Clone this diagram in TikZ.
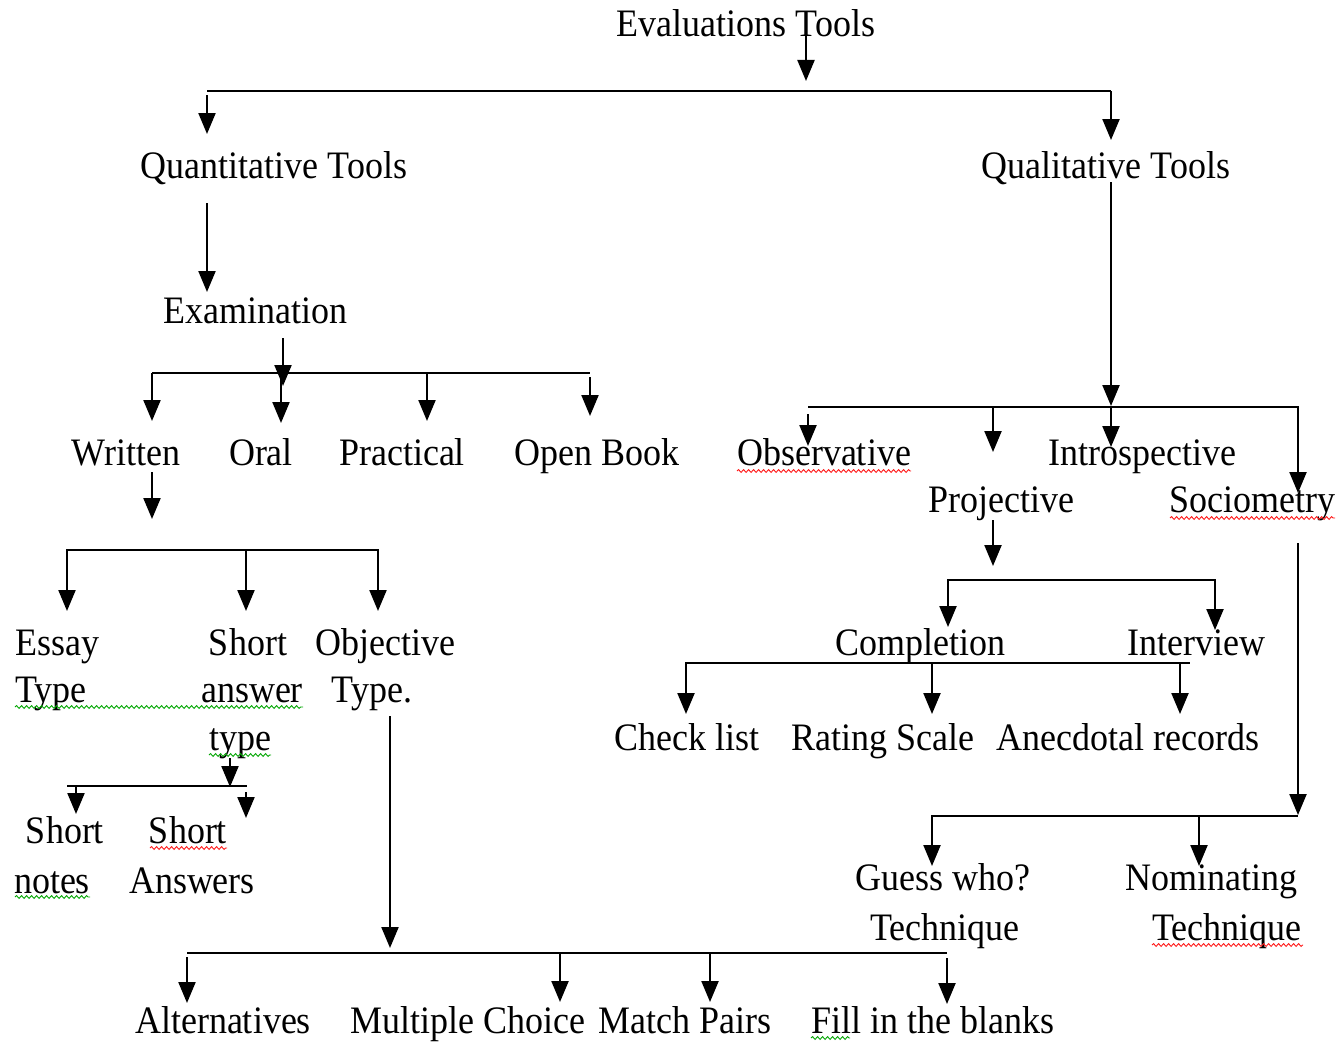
\documentclass[tikz,border=0pt]{standalone}
\usepackage{fontspec}
\usepackage{graphicx}
\setmainfont{Liberation Serif}
\usetikzlibrary{arrows.meta,decorations.pathmorphing}
\newcommand\tallt[1]{\scalebox{1}[1.08]{#1}}
\begin{document}
\begin{tikzpicture}[x=1pt,y=-1pt,
  lbl/.style={anchor=base,inner sep=0pt,font=\fontsize{36}{44}\selectfont},
  lblw/.style={lbl,anchor=base west},
  ln/.style={line width=2.2pt},
  arr/.style={ln,-{Triangle[length=21pt,width=17pt]}},
  arrL/.style={ln,{Triangle[length=21pt,width=17pt]}-},
  arrB/.style={ln,{Triangle[length=21pt,width=17pt]}-{Triangle[length=21pt,width=17pt]}},
  sq/.style={line width=0.9pt,decorate,decoration={snake,amplitude=1.4pt,segment length=5pt}},
  redsq/.style={sq,draw=red!90!white},
  grnsq/.style={sq,draw=green!65!black}]
\useasboundingbox (0,0) rectangle (1338,1041);
\fill[white] (0,0) rectangle (1338,1041);

% ---- text nodes ----
\node[lbl] (eval) at (746,37) {\tallt{Evaluations Tools}};
\node[lbl] (quant) at (274,178) {\tallt{Quantitative Tools}};
\node[lbl] (qual) at (1106,178) {\tallt{Qualitative Tools}};
\node[lbl] (exam) at (255,323) {\tallt{Examination}};
\node[lbl] (written) at (126,465) {\tallt{Written}};
\node[lbl] (oral) at (261,465) {\tallt{Oral}};
\node[lbl] (pract) at (402,465) {\tallt{Practical}};
\node[lbl] (open) at (597,465) {\tallt{Open Book}};
\node[lbl] (obs) at (824,465) {\tallt{Observative}};
\node[lbl] (intro) at (1142,465) {\tallt{Introspective}};
\node[lbl] (proj) at (1001,512) {\tallt{Projective}};
\node[lbl] (socio) at (1252,512) {\tallt{Sociometry}};
\node[lbl] (compl) at (920,655) {\tallt{Completion}};
\node[lbl] (interv) at (1196,655) {\tallt{Interview}};
\node[lbl] (check) at (687,750) {\tallt{Check list}};
\node[lbl] (rating) at (883,750) {\tallt{Rating Scale}};
\node[lbl] (anec) at (1128,750) {\tallt{Anecdotal records}};
\node[lblw] (essayA) at (15,655) {\tallt{Essay}};
\node[lblw] (essayB) at (15,702) {\tallt{Type}};
\node[lbl] (satA) at (248,655) {\tallt{Short}};
\node[lbl] (satB) at (252,702) {\tallt{answer}};
\node[lbl] (satC) at (240,750) {\tallt{type}};
\node[lbl] (objA) at (385,655) {\tallt{Objective}};
\node[lbl] (objB) at (372,702) {\tallt{Type.}};
\node[lbl] (snA) at (65,843) {\tallt{Short}};
\node[lbl] (snB) at (52,893) {\tallt{notes}};
\node[lbl] (saA) at (188,843) {\tallt{Short}};
\node[lbl] (saB) at (192,893) {\tallt{Answers}};
\node[lbl] (gwA) at (943,890) {\tallt{Guess who?}};
\node[lbl] (gwB) at (945,940) {\tallt{Technique}};
\node[lbl] (nomA) at (1211,890) {\tallt{Nominating}};
\node[lbl] (nomB) at (1227,940) {\tallt{Technique}};
\node[lbl] (alt) at (223,1033) {\tallt{Alternatives}};
\node[lbl] (mc) at (468,1033) {\tallt{Multiple Choice}};
\node[lbl] (mp) at (685,1033) {\tallt{Match Pairs}};
\node[lbl] (fill) at (933,1033) {\tallt{Fill in the blanks}};

% ---- junction coordinates ----
\coordinate (e0) at (806,30);   \coordinate (e1) at (806,81);
\coordinate (b1L) at (207,91);  \coordinate (b1R) at (1111,91);
\coordinate (q0) at (207,203);  \coordinate (q1) at (207,292);
\coordinate (x0) at (283,338);  \coordinate (x1) at (283,386);
\coordinate (b2L) at (152,373); \coordinate (b2R) at (590,373);
\coordinate (w0) at (152,472);  \coordinate (w1) at (152,519);
\coordinate (b3L) at (67,550);  \coordinate (b3R) at (378,550);
\coordinate (t0) at (230,758);  \coordinate (t1) at (230,787);
\coordinate (b4L) at (67,786);  \coordinate (b4R) at (247,786);
\coordinate (o0) at (390,716);  \coordinate (o1) at (390,948);
\coordinate (b5L) at (187,953); \coordinate (b5R) at (947,953);
\coordinate (l0) at (1111,182); \coordinate (l1) at (1111,406);
\coordinate (b6L) at (808,407); \coordinate (b6R) at (1298,407);
\coordinate (p0) at (993,520);  \coordinate (p1) at (993,566);
\coordinate (b7L) at (948,580); \coordinate (b7R) at (1215,580);
\coordinate (b8L) at (686,663); \coordinate (b8R) at (1190,663);
\coordinate (s0) at (1298,543); \coordinate (s1) at (1298,815);
\coordinate (b9L) at (932,816); \coordinate (b9R) at (1298,816);

% ---- connectors ----
\draw[arr] (e0) -- (e1);
\draw[ln] (b1L) -- (b1R);
\draw[arr] ([yshift=-4pt]b1L) -- (207,134);
\draw[arr] (b1R) -- (1111,140);
\draw[arr] (q0) -- (q1);

\draw[arr] (x0) -- (x1);
\draw[ln] (b2L) -- (b2R);
\draw[arr] (b2L) -- (152,421);
\draw[arr] (281,373) -- (281,423);
\draw[arr] (427,373) -- (427,421);
\draw[arr] ([yshift=-4pt]b2R) -- (590,416);

\draw[arr] (w0) -- (w1);
\draw[arrB] (67,611) -- (b3L) -- (b3R) -- (378,611);
\draw[arr] (246,550) -- (246,611);

\draw[arr] (t0) -- (t1);
\draw[ln] (b4L) -- (b4R);
\draw[arr] (76,786) -- (76,814);
\draw[arr] (246,792) -- (246,818);

\draw[arr] (o0) -- (o1);
\draw[ln] (b5L) -- (b5R);
\draw[arr] ([yshift=-4pt]b5L) -- (187,1003);
\draw[arr] (560,953) -- (560,1002);
\draw[arr] (710,953) -- (710,1002);
\draw[arr] ([yshift=-5pt]b5R) -- (947,1004);

\draw[arr] (l0) -- (l1);
\draw[arr] (b6L) -- (b6R) -- (1298,493);
\draw[arr] ([yshift=-7pt]b6L) -- (808,446);
\draw[arr] (993,407) -- (993,452);
\draw[arr] (1111,407) -- (1111,447);

\draw[arr] (p0) -- (p1);
\draw[arrB] (948,627) -- (b7L) -- (b7R) -- (1215,630);

\draw[arrL] (686,714) -- (b8L) -- (b8R);
\draw[arr] (932,663) -- (932,714);
\draw[arr] (1180,663) -- (1180,714);

\draw[arr] (s0) -- (s1);
\draw[arrL] (932,866) -- (b9L) -- (b9R);
\draw[arr] (1199,816) -- (1199,866);

% ---- spell-check squiggles ----
\draw[grnsq] (15,707) -- (303,707);
\draw[grnsq] (209,755) -- (271,755);
\draw[grnsq] (15,897) -- (90,897);
\draw[grnsq] (811,1038) -- (850,1038);
\draw[redsq] (737,471) -- (911,471);
\draw[redsq] (1170,518) -- (1335,518);
\draw[redsq] (150,848) -- (227,848);
\draw[redsq] (1152,945) -- (1303,945);
\end{tikzpicture}
\end{document}
